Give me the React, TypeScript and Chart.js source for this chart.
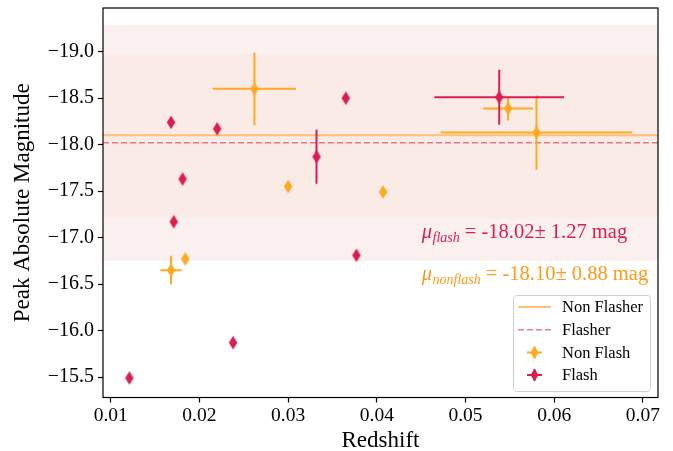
import React, { useEffect, useRef } from 'react';
import { Chart, registerables } from 'chart.js';

Chart.register(...registerables);

// ---- data ----
const nonFlashZ = [0.0262, 0.0300, 0.0407, 0.0548, 0.0580, 0.0168, 0.0184];
const nonFlashMag = [-18.60, -17.55, -17.49, -18.39, -18.13, -16.65, -16.77];
const nonFlashZErr = [0.0047, 0, 0, 0.0028, 0.0108, 0.0012, 0];
const nonFlashMagErr = [0.39, 0, 0, 0.13, 0.40, 0.155, 0];

const flashZ = [0.0168, 0.0181, 0.0220, 0.0332, 0.0365, 0.0538, 0.0171, 0.0121, 0.0238, 0.0377];
const flashMag = [-18.24, -17.63, -18.17, -17.87, -18.50, -18.51, -17.17, -15.49, -15.87, -16.81];
const flashZErr = [0, 0, 0, 0, 0, 0.0073, 0, 0, 0, 0];
const flashMagErr = [0, 0, 0, 0.29, 0, 0.295, 0, 0, 0, 0];

const nonFlashMean = -18.10;
const nonFlashStd = 0.88;
const flashMean = -18.02;
const flashStd = 1.27;

const xTicks = [0.01, 0.02, 0.03, 0.04, 0.05, 0.06, 0.07];
const yTicks = [-19.0, -18.5, -18.0, -17.5, -17.0, -16.5, -16.0, -15.5];

const legendLabels = ['Non Flasher', 'Flasher', 'Non Flash', 'Flash'];

// ---- styles ----
const FONT = '"Liberation Serif", "DejaVu Serif", serif';
const ORANGE = '#ffaa22';
const CRIMSON = '#dc1e4e';
const NONFLASH_LINE = '#ffbf78';
const FLASH_LINE = 'rgba(220,20,60,0.55)';
const OUTER_BAND = '#fbf0f0';
const INNER_BAND = '#faebe6';
const TEXT_FLASH = '#dc1e4e';
const TEXT_NONFLASH = '#ff9a1a';

function diamondPath(ctx: CanvasRenderingContext2D, x: number, y: number, w: number, h: number) {
  ctx.beginPath();
  ctx.moveTo(x, y - h / 2);
  ctx.lineTo(x + w / 2, y);
  ctx.lineTo(x, y + h / 2);
  ctx.lineTo(x - w / 2, y);
  ctx.closePath();
}

function makeMarker(color: string) {
  const c = document.createElement('canvas');
  c.width = 10;
  c.height = 15;
  const ctx = c.getContext('2d')!;
  diamondPath(ctx, 5, 7.5, 8.5, 13.5);
  ctx.fillStyle = color;
  ctx.fill();
  return c;
}

const extrasPlugin = {
  id: 'extras',
  beforeDatasetsDraw(chart: any) {
    const { ctx, chartArea: a, scales } = chart;
    const xs = scales.x;
    const ys = scales.y;
    ctx.save();
    ctx.beginPath();
    ctx.rect(a.left, a.top, a.right - a.left, a.bottom - a.top);
    ctx.clip();
    // bands
    const band = (m: number, s: number, col: string) => {
      const y1 = ys.getPixelForValue(m - s);
      const y2 = ys.getPixelForValue(m + s);
      ctx.fillStyle = col;
      ctx.fillRect(a.left, Math.min(y1, y2), a.right - a.left, Math.abs(y2 - y1));
    };
    band(flashMean, flashStd, OUTER_BAND);
    band(nonFlashMean, nonFlashStd, INNER_BAND);
    // mean lines
    ctx.lineWidth = 2;
    ctx.strokeStyle = NONFLASH_LINE;
    let yy = ys.getPixelForValue(nonFlashMean);
    ctx.beginPath();
    ctx.moveTo(a.left, yy);
    ctx.lineTo(a.right, yy);
    ctx.stroke();
    ctx.lineWidth = 1.6;
    ctx.strokeStyle = FLASH_LINE;
    ctx.setLineDash([6, 3]);
    yy = ys.getPixelForValue(flashMean);
    ctx.beginPath();
    ctx.moveTo(a.left, yy);
    ctx.lineTo(a.right, yy);
    ctx.stroke();
    ctx.setLineDash([]);
    // error bars
    const errs = (zs: number[], ms: number[], ze: number[], me: number[], col: string) => {
      ctx.strokeStyle = col;
      ctx.lineWidth = 2;
      zs.forEach((z, i) => {
        const px = xs.getPixelForValue(z);
        const py = ys.getPixelForValue(ms[i]);
        if (ze[i] > 0) {
          ctx.beginPath();
          ctx.moveTo(xs.getPixelForValue(z - ze[i]), py);
          ctx.lineTo(xs.getPixelForValue(z + ze[i]), py);
          ctx.stroke();
        }
        if (me[i] > 0) {
          ctx.beginPath();
          ctx.moveTo(px, ys.getPixelForValue(ms[i] - me[i]));
          ctx.lineTo(px, ys.getPixelForValue(ms[i] + me[i]));
          ctx.stroke();
        }
      });
    };
    errs(nonFlashZ, nonFlashMag, nonFlashZErr, nonFlashMagErr, ORANGE);
    errs(flashZ, flashMag, flashZErr, flashMagErr, CRIMSON);
    ctx.restore();
  },
  afterDraw(chart: any) {
    const { ctx, chartArea: a, scales } = chart;
    const xs = scales.x;
    const ys = scales.y;
    ctx.save();
    // frame
    ctx.strokeStyle = '#000';
    ctx.lineWidth = 1.2;
    ctx.strokeRect(a.left, a.top, a.right - a.left, a.bottom - a.top);

    // annotation texts
    const drawMu = (sub: string, rest: string, z: number, m: number, col: string) => {
      let x = xs.getPixelForValue(z);
      const y = ys.getPixelForValue(m);
      ctx.fillStyle = col;
      ctx.textBaseline = 'alphabetic';
      ctx.textAlign = 'left';
      ctx.font = `italic 20.5px ${FONT}`;
      ctx.fillText('\u03bc', x, y);
      x += ctx.measureText('\u03bc').width + 0.5;
      ctx.font = `italic 14px ${FONT}`;
      ctx.fillText(sub, x, y + 4);
      x += ctx.measureText(sub).width;
      ctx.font = `20.5px ${FONT}`;
      ctx.fillText(rest, x, y);
    };
    drawMu('flash', ` = ${flashMean.toFixed(2)}\u00b1 ${flashStd.toFixed(2)} mag`, 0.04506, -17.0, TEXT_FLASH);
    drawMu('nonflash', ` = ${nonFlashMean.toFixed(2)}\u00b1 ${nonFlashStd.toFixed(2)} mag`, 0.04506, -16.54, TEXT_NONFLASH);

    // legend
    const bw = 137;
    const bh = 96;
    const bx = a.right - 8 - bw;
    const by = a.bottom - 6.5 - bh;
    ctx.fillStyle = 'rgba(255,255,255,0.85)';
    ctx.strokeStyle = '#d0d0d0';
    ctx.lineWidth = 1;
    ctx.beginPath();
    (ctx as any).roundRect(bx + 0.5, by + 0.5, bw, bh, 3);
    ctx.fill();
    ctx.stroke();
    const rowY = (i: number) => by + 12 + i * 22.7;
    const hx1 = bx + 5;
    const hx2 = bx + 38;
    const hc = (hx1 + hx2) / 2;
    // Non Flasher line
    ctx.strokeStyle = NONFLASH_LINE;
    ctx.lineWidth = 2;
    ctx.beginPath();
    ctx.moveTo(hx1, rowY(0));
    ctx.lineTo(hx2, rowY(0));
    ctx.stroke();
    // Flasher dashed
    ctx.strokeStyle = FLASH_LINE;
    ctx.lineWidth = 1.6;
    ctx.setLineDash([6, 3]);
    ctx.beginPath();
    ctx.moveTo(hx1, rowY(1));
    ctx.lineTo(hx2, rowY(1));
    ctx.stroke();
    ctx.setLineDash([]);
    // error markers
    const errHandle = (y: number, col: string) => {
      ctx.strokeStyle = col;
      ctx.lineWidth = 2;
      ctx.beginPath();
      ctx.moveTo(hc - 7.5, y);
      ctx.lineTo(hc + 7.5, y);
      ctx.moveTo(hc, y - 6);
      ctx.lineTo(hc, y + 6);
      ctx.stroke();
      diamondPath(ctx, hc, y, 8, 13);
      ctx.fillStyle = col;
      ctx.fill();
    };
    errHandle(rowY(2), ORANGE);
    errHandle(rowY(3), CRIMSON);
    ctx.fillStyle = '#000';
    ctx.font = `16.5px ${FONT}`;
    ctx.textBaseline = 'middle';
    ctx.textAlign = 'left';
    legendLabels.forEach((t, i) => ctx.fillText(t, bx + 49, rowY(i) + 1));
    ctx.restore();
  },
};

const fmtMinus = (v: number, d: number) => (v < 0 ? '\u2212' : '') + Math.abs(v).toFixed(d);

export default function App() {
  const ref = useRef<HTMLCanvasElement>(null);
  useEffect(() => {
    document.body.style.margin = '0';
    const orangeImg = makeMarker(ORANGE);
    const crimsonImg = makeMarker(CRIMSON);
    const chart = new Chart(ref.current!, {
      type: 'scatter',
      data: {
        datasets: [
          {
            label: 'Non Flash',
            data: nonFlashZ.map((x, i) => ({ x, y: nonFlashMag[i] })),
            pointStyle: orangeImg as any,
            pointRadius: 6,
            backgroundColor: ORANGE,
            borderColor: ORANGE,
          },
          {
            label: 'Flash',
            data: flashZ.map((x, i) => ({ x, y: flashMag[i] })),
            pointStyle: crimsonImg as any,
            pointRadius: 6,
            backgroundColor: CRIMSON,
            borderColor: CRIMSON,
          },
        ],
      },
      options: {
        responsive: false,
        animation: false,
        events: [],
        layout: { padding: { top: 8, right: 15, left: 0, bottom: 0 } },
        plugins: { legend: { display: false }, tooltip: { enabled: false } },
        scales: {
          x: {
            type: 'linear',
            min: 0.00913,
            max: 0.0717,
            afterBuildTicks: (s: any) => {
              s.ticks = xTicks.map((v) => ({ value: v }));
            },
            afterFit: (s: any) => {
              s.height = 53.5;
              s.paddingLeft = 0;
              s.paddingRight = 0;
            },
            ticks: {
              color: '#000',
              font: { family: FONT, size: 19.5 },
              padding: 2,
              maxRotation: 0,
              autoSkip: false,
              callback: (v: any) => Number(v).toFixed(2),
            },
            grid: { drawOnChartArea: false, tickLength: 5, color: '#000', tickWidth: 1.2 },
            border: { display: false },
            title: {
              display: true,
              text: 'Redshift',
              color: '#000',
              font: { family: FONT, size: 23 },
              padding: { top: 0, bottom: -4 },
            },
          },
          y: {
            type: 'linear',
            reverse: true,
            min: -19.47,
            max: -15.28,
            afterBuildTicks: (s: any) => {
              s.ticks = yTicks.map((v) => ({ value: v }));
            },
            afterFit: (s: any) => {
              s.width = 103;
              s.paddingTop = 0;
              s.paddingBottom = 0;
            },
            ticks: {
              color: '#000',
              font: { family: FONT, size: 20 },
              padding: 4,
              autoSkip: false,
              callback: (v: any) => fmtMinus(Number(v), 1),
            },
            grid: { drawOnChartArea: false, tickLength: 5, color: '#000', tickWidth: 1.2 },
            border: { display: false },
            title: {
              display: true,
              text: 'Peak Absolute Magnitude',
              color: '#000',
              font: { family: FONT, size: 23 },
              padding: { top: 9, bottom: 0 },
            },
          },
        },
      },
      plugins: [extrasPlugin],
    } as any);
    return () => chart.destroy();
  }, []);
  return (
    <div style={{ position: 'absolute', left: 0, top: 0, width: 673, height: 451 }}>
      <canvas ref={ref} width={673} height={451} style={{ width: 673, height: 451 }} />
    </div>
  );
}
